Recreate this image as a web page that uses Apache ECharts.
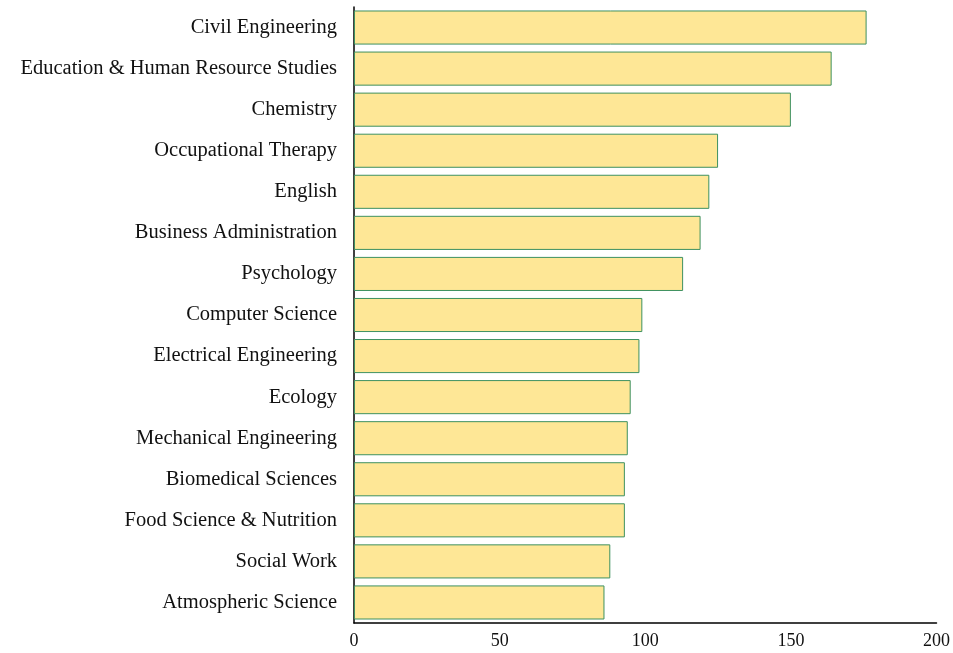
<!DOCTYPE html>
<html><head><meta charset="utf-8">
<script src="https://cdn.jsdelivr.net/npm/echarts@6/dist/echarts.min.js"></script>
<style>html,body{margin:0;padding:0;background:#fff}#c{width:953px;height:653px}</style>
</head><body><div id="c"></div>
<script>
const categories = ["Civil Engineering","Education & Human Resource Studies","Chemistry","Occupational Therapy","English","Business Administration","Psychology","Computer Science","Electrical Engineering","Ecology","Mechanical Engineering","Biomedical Sciences","Food Science & Nutrition","Social Work","Atmospheric Science"];
const values = [176,164,150,125,122,119,113,99,98,95,94,93,93,88,86];
const xTicks = [0,50,100,150,200];

const chart = echarts.init(document.getElementById('c'));
chart.setOption({
  animation:false,
  grid:{left:354,right:13,top:7,bottom:30,containLabel:false},
  xAxis:{type:'value',min:xTicks[0],max:xTicks[xTicks.length-1],interval:50,
    axisLine:{show:true,lineStyle:{color:'#000',width:1.5}},axisTick:{show:false},
    splitLine:{show:false},
    axisLabel:{color:'#111',fontFamily:'Liberation Serif',fontSize:18,margin:9}},
  yAxis:{type:'category',data:categories,inverse:true,
    axisLine:{show:true,lineStyle:{color:'#000',width:1.5}},axisTick:{show:false},
    axisLabel:{color:'#111',fontFamily:'Liberation Serif',fontSize:20.5,margin:17,padding:[3,0,0,0]}},
  series:[{type:'bar',data:values,barCategoryGap:'17%',
    itemStyle:{color:'#FEE796',borderColor:'#3E9160',borderWidth:1}}]
});
</script></body></html>
